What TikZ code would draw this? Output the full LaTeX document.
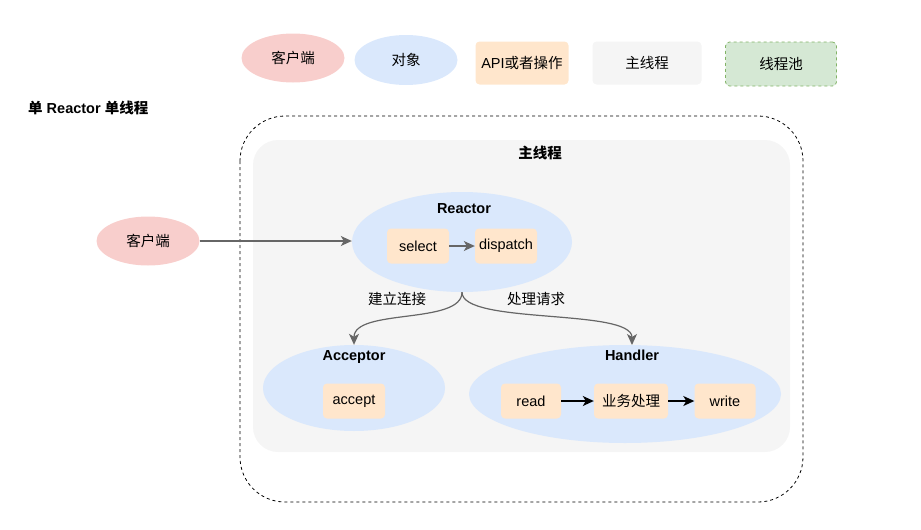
\documentclass[tikz,border=0pt]{standalone}
\usepackage{fontspec}
\setmainfont{Liberation Sans}
\newfontfamily\cjk{Noto Sans CJK SC}
\usetikzlibrary{shapes.geometric,arrows.meta}

\definecolor{kehu}{HTML}{F8CECC}
\definecolor{duixiang}{HTML}{DAE8FC}
\definecolor{caozuo}{HTML}{FFE6CC}
\definecolor{zhuxian}{HTML}{F5F5F5}
\definecolor{chifill}{HTML}{D5E8D4}
\definecolor{chiline}{HTML}{82B366}
\definecolor{jiantou}{HTML}{666666}

\tikzset{
  every node/.style={font=\fontsize{14.5}{17}\selectfont, inner sep=0pt},
  kehuell/.style={ellipse, fill=kehu, minimum width=103, minimum height=49},
  obj/.style={ellipse, fill=duixiang},
  opbox/.style={rounded corners=4, fill=caozuo, minimum width=62, minimum height=35},
  biaoti/.style={font=\fontsize{14.5}{17}\selectfont\bfseries},
  grayarr/.style={draw=jiantou, line width=1.2pt, -{Stealth[length=11pt,width=10pt,inset=3pt]}},
  blackarr/.style={draw=black, line width=1.4pt, -{Stealth[length=11pt,width=10pt,inset=3pt]}}
}

\begin{document}
\begin{tikzpicture}[x=1pt,y=-1pt]

\useasboundingbox (0,0) rectangle (921,530);

% legend
\node[kehuell] (lg1) at (293,58) {\cjk 客户端};
\node[obj, minimum width=103, minimum height=50] (lg2) at (406,60) {\cjk 对象};
\node[opbox, minimum width=93, minimum height=43] (lg3) at (522,63) {API\cjk 或者操作};
\node[rounded corners=4, fill=zhuxian, minimum width=109, minimum height=43] (lg4) at (647,63) {\cjk 主线程};
\node[rounded corners=4, fill=chifill, draw=chiline, dashed, line width=0.8pt,
      minimum width=111, minimum height=44] (lg5) at (781,64) {\cjk 线程池};

% title
\node[biaoti, anchor=west] (title) at (28,108) {{\cjk 单} Reactor {\cjk 单线程}};

% outer border
\draw[dashed, line width=0.8pt, rounded corners=45] (240,116) rectangle (803,502);

% main thread
\fill[zhuxian, rounded corners=25] (253,140) rectangle (790,452);
\node[biaoti] (mainlbl) at (540,153) {\cjk 主线程};

% client
\node[kehuell] (client) at (148,241) {\cjk 客户端};

% Reactor
\node[obj, minimum width=220, minimum height=100] (reactor) at (462,242) {};
\node[biaoti] (reactorlbl) at (464,209) {Reactor};
\node[opbox] (sel) at (418,246) {select};
\node[opbox] (disp) at (506,246) {dispatch};
\draw[grayarr] (sel) -- (disp);

\draw[grayarr] (client) -- (reactor.west |- client);

% Acceptor
\node[obj, minimum width=182, minimum height=86] (acceptor) at (354,388) {};
\node[biaoti] (acceptorlbl) at (354,357) {Acceptor};
\node[opbox] (acc) at (354,401) {accept};

% Handler
\node[obj, minimum width=312, minimum height=98] (handler) at (625,394) {};
\node[biaoti] (handlerlbl) at (632,355) {Handler};
\node[opbox, minimum width=60] (rd) at (531,401) {read};
\node[opbox, minimum width=74] (biz) at (631,401) {\cjk 业务处理};
\node[opbox, minimum width=61] (wr) at (725,401) {write};
\draw[blackarr] (rd) -- (biz);
\draw[blackarr] (biz) -- (wr);

% connections
\draw[grayarr] (reactor.south) .. controls (462,325) and (354,308) .. (acceptor.north);
\draw[grayarr] (reactor.south) .. controls (462,325) and (632,308) .. (632,345);

\node (lianjie) at (397,299) {\cjk 建立连接};
\node (qingqiu) at (536,299) {\cjk 处理请求};

\end{tikzpicture}
\end{document}
